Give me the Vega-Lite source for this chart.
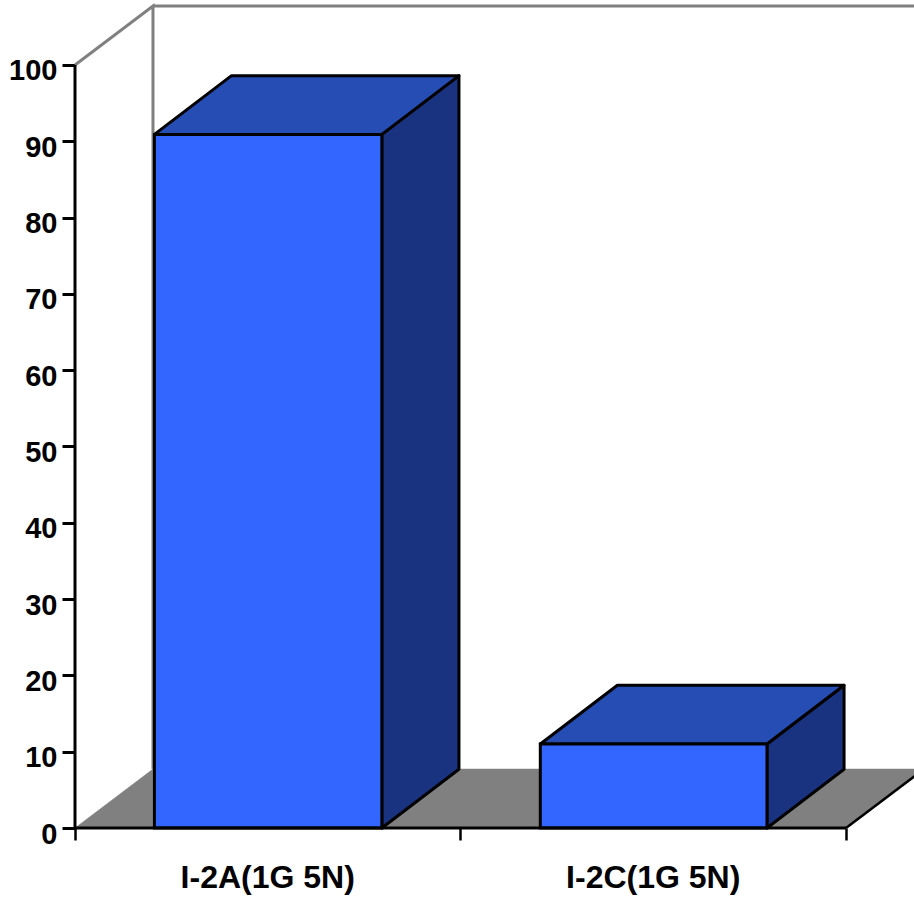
{
"$schema":"https://vega.github.io/schema/vega-lite/v6.json",
"width":839,"height":822,
"autosize":{"type":"none"},
"padding":{"left":75,"top":6,"right":0,"bottom":74},
"background":"white",
"config":{"view":{"stroke":null}},
"datasets":{
"floor":[{"x":0,"y":0,"y2":0},{"x":0.2023,"y":7.73,"y2":0},{"x":2,"y":7.73,"y2":0},{"x":2.2023,"y":7.73,"y2":7.73}],
"walls":[{"seq":1,"x":0,"y":100},{"seq":2,"x":0.2023,"y":107.73},{"seq":3,"x":0.2023,"y":7.73}],
"wallTop":[{"x":0.2023,"y":107.73},{"x":2.2023,"y":107.73}],
"floorEdge":[{"x":2,"y":0},{"x":2.2023,"y":7.73}],
"bars":[{"category":"I-2A(1G 5N)","mid":0.5,"x0":0.206,"x1":0.796,"value":90.9},{"category":"I-2C(1G 5N)","mid":1.5,"x0":1.207,"x1":1.795,"value":11}],
"side":[{"bar":"A","x":0.796,"y":90.9,"y2":0},{"bar":"A","x":0.996,"y":98.6,"y2":7.7},{"bar":"C","x":1.795,"y":11,"y2":0},{"bar":"C","x":1.995,"y":18.7,"y2":7.7}],
"top":[{"bar":"A","x":0.206,"y":90.9,"y2":90.9},{"bar":"A","x":0.406,"y":98.6,"y2":90.9},{"bar":"A","x":0.796,"y":98.6,"y2":90.9},{"bar":"A","x":0.996,"y":98.6,"y2":98.6},{"bar":"C","x":1.207,"y":11,"y2":11},{"bar":"C","x":1.407,"y":18.7,"y2":11},{"bar":"C","x":1.795,"y":18.7,"y2":11},{"bar":"C","x":1.995,"y":18.7,"y2":18.7}],
"xAxisLine":[{"x":0,"y":0},{"x":2,"y":0}],
"yAxisLine":[{"seq":1,"x":0,"y":0},{"seq":2,"x":0,"y":100}]
},
"layer":[
{"data":{"name":"floor"},"mark":{"type":"area","fill":"#808080","stroke":"#808080","strokeWidth":0.5},
 "encoding":{
  "x":{"field":"x","type":"quantitative","scale":{"domain":[0,2.1764],"nice":false,"zero":false},
   "axis":{"title":null,"grid":false,"domain":false,"values":[0,1,2],"labels":false,"tickSize":12,"tickWidth":2.5,"tickColor":"black"}},
  "y":{"field":"y","type":"quantitative","scale":{"domain":[0,107.73],"nice":false},
   "axis":{"title":null,"grid":false,"domain":false,"values":[0,10,20,30,40,50,60,70,80,90,100],"tickSize":13,"tickWidth":3,"tickColor":"black","labelFont":"Liberation Sans","labelFontWeight":"bold","labelFontSize":29,"labelColor":"black","labelPadding":5,"labelOffset":6}},
  "y2":{"field":"y2"}}},
{"data":{"name":"walls"},"mark":{"type":"line","stroke":"#808080","strokeWidth":3},
 "encoding":{"x":{"field":"x","type":"quantitative"},"y":{"field":"y","type":"quantitative"},"order":{"field":"seq"}}},
{"data":{"name":"wallTop"},"mark":{"type":"line","stroke":"#808080","strokeWidth":3},
 "encoding":{"x":{"field":"x","type":"quantitative"},"y":{"field":"y","type":"quantitative"}}},
{"data":{"name":"floorEdge"},"mark":{"type":"line","stroke":"black","strokeWidth":2.5},
 "encoding":{"x":{"field":"x","type":"quantitative"},"y":{"field":"y","type":"quantitative"}}},
{"data":{"name":"side"},"mark":{"type":"area","fill":"#1a3380","stroke":"black","strokeWidth":3,"strokeJoin":"round"},
 "encoding":{"x":{"field":"x","type":"quantitative"},"y":{"field":"y","type":"quantitative"},"y2":{"field":"y2"},"detail":{"field":"bar"}}},
{"data":{"name":"top"},"mark":{"type":"area","fill":"#264db3","stroke":"black","strokeWidth":3,"strokeJoin":"round"},
 "encoding":{"x":{"field":"x","type":"quantitative"},"y":{"field":"y","type":"quantitative"},"y2":{"field":"y2"},"detail":{"field":"bar"}}},
{"data":{"name":"bars"},"mark":{"type":"rect","fill":"#3366ff","stroke":"black","strokeWidth":3},
 "encoding":{"x":{"field":"x0","type":"quantitative"},"x2":{"field":"x1"},"y":{"field":"value","type":"quantitative"},"y2":{"datum":0}}},
{"data":{"name":"xAxisLine"},"mark":{"type":"line","stroke":"black","strokeWidth":3},
 "encoding":{"x":{"field":"x","type":"quantitative"},"y":{"field":"y","type":"quantitative"}}},
{"data":{"name":"yAxisLine"},"mark":{"type":"line","stroke":"black","strokeWidth":3},
 "encoding":{"x":{"field":"x","type":"quantitative"},"y":{"field":"y","type":"quantitative"},"order":{"field":"seq"}}},
{"data":{"name":"bars"},"mark":{"type":"text","font":"Liberation Sans","fontWeight":"bold","fontSize":32,"color":"black","baseline":"middle","align":"center","dy":50},
 "encoding":{"x":{"field":"mid","type":"quantitative"},"y":{"datum":0},"text":{"field":"category"}}}
]
}
